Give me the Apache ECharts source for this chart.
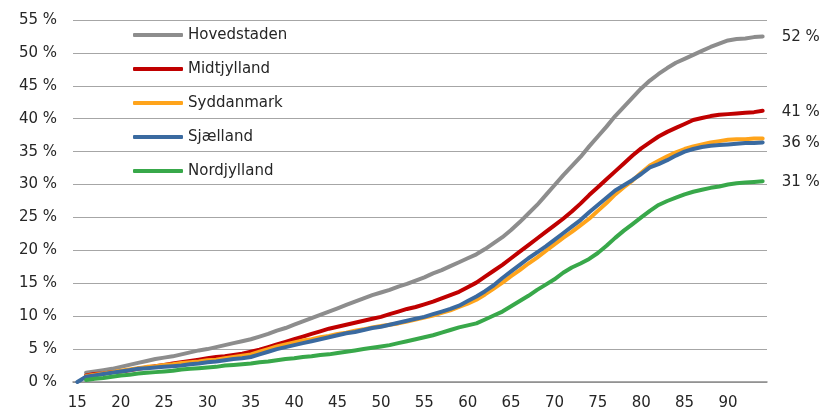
<!DOCTYPE html>
<html>
<head>
<meta charset="utf-8">
<script src="https://cdn.jsdelivr.net/npm/echarts@6/dist/echarts.min.js"></script>
<style>
html,body{margin:0;padding:0;background:#fff;}
#chart{width:823px;height:411px;}
</style>
</head>
<body>
<div id="chart"></div>
<script>
// Ages 15..94
const ages = [];
for (let a = 15; a <= 94; a++) ages.push(String(a));

const seriesNames = ['Hovedstaden', 'Midtjylland', 'Syddanmark', 'Sjælland', 'Nordjylland'];
const seriesColors = ['#8d8d8d', '#c00000', '#ffa41b', '#3a6aa0', '#38a84a'];
const endLabels = ['52 %', '41 %', null, '36 %', '31 %'];
const yTickValues = [0, 5, 10, 15, 20, 25, 30, 35, 40, 45, 50, 55];

const hovedstaden = [null,
 1.4, 1.6, 1.8, 2.0, 2.3, 2.6, 2.9, 3.2, 3.5, 3.7,
 3.9, 4.2, 4.5, 4.8, 5.0, 5.3, 5.6, 5.9, 6.2, 6.5,
 6.9, 7.3, 7.8, 8.2, 8.7, 9.2, 9.7, 10.2, 10.7, 11.2,
 11.7, 12.2, 12.7, 13.2, 13.6, 14.0, 14.5, 14.9, 15.4, 15.9,
 16.5, 17.0, 17.6, 18.2, 18.8, 19.4, 20.2, 21.1, 22.0, 23.1,
 24.3, 25.6, 26.9, 28.4, 29.9, 31.4, 32.8, 34.2, 35.8, 37.3,
 38.8, 40.4, 41.8, 43.2, 44.6, 45.8, 46.8, 47.7, 48.5, 49.1,
 49.7, 50.3, 50.9, 51.4, 51.9, 52.1, 52.2, 52.4, 52.5];

const midtjylland = [null,
 1.0, 1.2, 1.3, 1.5, 1.6, 1.8, 2.0, 2.2, 2.4, 2.6,
 2.8, 3.0, 3.2, 3.4, 3.6, 3.8, 3.9, 4.1, 4.3, 4.6,
 4.9, 5.3, 5.7, 6.1, 6.5, 6.9, 7.3, 7.7, 8.1, 8.4,
 8.7, 9.0, 9.3, 9.6, 9.9, 10.3, 10.7, 11.1, 11.4, 11.8,
 12.2, 12.7, 13.2, 13.7, 14.4, 15.1, 16.0, 16.9, 17.8, 18.8,
 19.8, 20.8, 21.8, 22.8, 23.8, 24.8, 25.9, 27.1, 28.4, 29.6,
 30.8, 32.0, 33.2, 34.4, 35.5, 36.4, 37.3, 38.0, 38.6, 39.2,
 39.8, 40.1, 40.4, 40.6, 40.7, 40.8, 40.9, 41.0, 41.2];

const syddanmark = [null,
 0.9, 1.1, 1.3, 1.5, 1.7, 1.9, 2.1, 2.3, 2.4, 2.6,
 2.7, 2.9, 3.0, 3.1, 3.3, 3.4, 3.6, 3.8, 4.0, 4.2,
 4.6, 5.0, 5.4, 5.7, 6.0, 6.3, 6.5, 6.8, 7.0, 7.3,
 7.5, 7.8, 8.0, 8.3, 8.5, 8.7, 8.9, 9.2, 9.5, 9.8,
 10.1, 10.5, 10.9, 11.4, 11.9, 12.5, 13.3, 14.2, 15.1, 16.1,
 17.0, 18.0, 18.9, 19.9, 20.9, 21.9, 22.8, 23.8, 24.8, 26.0,
 27.2, 28.5, 29.6, 30.6, 31.8, 32.9, 33.6, 34.3, 34.9, 35.4,
 35.8, 36.1, 36.4, 36.6, 36.8, 36.9, 36.9, 37.0, 37.0];

const sjaelland = [0,
 0.8, 1.0, 1.2, 1.4, 1.6, 1.8, 2.0, 2.1, 2.2, 2.3,
 2.4, 2.5, 2.7, 2.8, 3.0, 3.1, 3.3, 3.5, 3.6, 3.8,
 4.2, 4.6, 5.0, 5.3, 5.6, 5.9, 6.2, 6.5, 6.8, 7.1,
 7.4, 7.6, 7.9, 8.2, 8.4, 8.7, 9.0, 9.3, 9.6, 9.9,
 10.3, 10.7, 11.1, 11.6, 12.3, 13.0, 13.8, 14.7, 15.8, 16.8,
 17.8, 18.8, 19.7, 20.6, 21.6, 22.6, 23.6, 24.6, 25.8, 26.9,
 28.0, 29.1, 29.9, 30.7, 31.6, 32.6, 33.1, 33.7, 34.4, 35.0,
 35.4, 35.7, 35.9, 36.0, 36.1, 36.2, 36.3, 36.3, 36.4];

const nordjylland = [null,
 0.3, 0.5, 0.6, 0.8, 1.0, 1.1, 1.3, 1.4, 1.5, 1.6,
 1.7, 1.9, 2.0, 2.1, 2.2, 2.3, 2.5, 2.6, 2.7, 2.8,
 3.0, 3.1, 3.3, 3.5, 3.6, 3.8, 3.9, 4.1, 4.2, 4.4,
 4.6, 4.8, 5.0, 5.2, 5.4, 5.6, 5.9, 6.2, 6.5, 6.8,
 7.1, 7.5, 7.9, 8.3, 8.6, 8.9, 9.5, 10.1, 10.7, 11.5,
 12.3, 13.1, 14.0, 14.8, 15.6, 16.6, 17.4, 18.0, 18.7, 19.6,
 20.7, 21.9, 23.0, 24.0, 25.0, 26.0, 26.9, 27.5, 28.0, 28.5,
 28.9, 29.2, 29.5, 29.7, 30.0, 30.2, 30.3, 30.4, 30.5];

const seriesData = [hovedstaden, midtjylland, syddanmark, sjaelland, nordjylland];

const FONT = '"DejaVu Sans", "Liberation Sans", sans-serif';
const TEXT_COLOR = '#262626';

const chart = echarts.init(document.getElementById('chart'), null, {renderer: 'canvas'});

const series = seriesNames.map((name, i) => ({
  name: name,
  type: 'line',
  data: seriesData[i],
  showSymbol: false,
  symbol: 'none',
  smooth: false,
  animation: false,
  lineStyle: {color: seriesColors[i], width: 4, cap: 'round', join: 'round'},
  itemStyle: {color: seriesColors[i]},
  emphasis: {disabled: true},
  endLabel: endLabels[i] ? {
    show: true,
    formatter: endLabels[i],
    distance: 19,
    offset: [0, 1],
    fontSize: 15,
    fontFamily: FONT,
    color: TEXT_COLOR
  } : {show: false}
}));

chart.setOption({
  animation: false,
  backgroundColor: '#ffffff',
  grid: {left: 73, right: 56, top: 20, bottom: 29, containLabel: false},
  legend: {
    orient: 'vertical',
    left: 128,
    top: 21,
    icon: 'roundRect',
    itemWidth: 50,
    itemHeight: 4,
    itemGap: 16,
    textStyle: {fontSize: 15, fontFamily: FONT, color: TEXT_COLOR, lineHeight: 18},
    data: seriesNames.map((n, i) => ({name: n, itemStyle: {color: seriesColors[i]}}))
  },
  xAxis: {
    type: 'category',
    data: ages,
    boundaryGap: true,
    axisLine: {show: true, lineStyle: {color: '#8c8c8c', width: 1.5}},
    axisTick: {show: false},
    axisLabel: {interval: 4, fontSize: 15, fontFamily: FONT, color: TEXT_COLOR, margin: 14},
    splitLine: {show: false}
  },
  yAxis: {
    type: 'value',
    min: yTickValues[0],
    max: yTickValues[yTickValues.length - 1],
    interval: 5,
    axisLine: {show: false},
    axisTick: {show: false},
    axisLabel: {formatter: '{value} %', fontSize: 15, fontFamily: FONT, color: TEXT_COLOR, margin: 16},
    splitLine: {show: true, lineStyle: {color: '#a6a6a6', width: 1.2}}
  },
  series: series
});
</script>
</body>
</html>
